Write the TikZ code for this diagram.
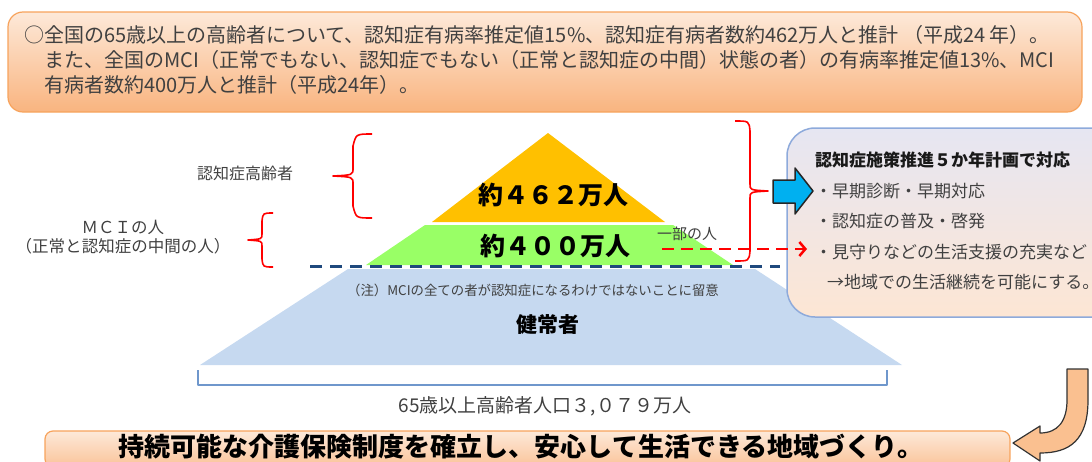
\documentclass[tikz,border=0pt]{standalone}
\usepackage{fontspec}
\setmainfont{Noto Sans CJK JP}
\usetikzlibrary{arrows.meta}

\definecolor{boxorange}{HTML}{F7A35C}
\definecolor{peachtop}{HTML}{FDE9D9}
\definecolor{peachbot}{HTML}{F9B47F}
\definecolor{tri}{HTML}{FFC000}
\definecolor{mcigreen}{HTML}{99FF66}
\definecolor{healthy}{HTML}{C6D9F0}
\definecolor{navy}{HTML}{1F497D}
\definecolor{planedge}{HTML}{8EAADB}
\definecolor{plantop}{HTML}{E6E6F2}
\definecolor{planbot}{HTML}{FDE6D4}
\definecolor{sky}{HTML}{00B0F0}
\definecolor{txtgray}{HTML}{404040}
\definecolor{bracketblue}{HTML}{6F97CC}
\definecolor{arroworange}{HTML}{FAC090}

\begin{document}
\begin{tikzpicture}[x=1pt,y=-1pt,line join=round,
  redbrace/.style={draw=red,line width=1.6pt},
  txt/.style={text=txtgray,inner sep=0pt},
  bignum/.style={inner sep=0pt,font=\fontsize{25}{25}\selectfont\bfseries}]

\useasboundingbox (0,0) rectangle (1092,461);
\clip (0,0) rectangle (1092,461);

% summary box on top
\node[draw=boxorange,line width=1.2pt,rounded corners=15pt,top color=peachtop,
  bottom color=peachbot,minimum width=1074pt,minimum height=100pt,inner sep=0pt]
  (summary) at (545,62) {};
\node[txt,anchor=west,align=left,font=\fontsize{20}{25}\selectfont]
  (summarytext) at (24,60)
  {○全国の65歳以上の高齢者について、認知症有病率推定値15\%、認知症有病者数約462万人と推計 （平成24 年）。\\
   　また、全国のMCI（正常でもない、認知症でもない（正常と認知症の中間）状態の者）の有病率推定値13\%、MCI\\
   　有病者数約400万人と推計（平成24年）。};

% pyramid
\fill[healthy] (348,269) -- (755,269) -- (902,365) -- (200,365) -- cycle;
\fill[mcigreen] (425,225) -- (673,225) -- (733,265) -- (366,265) -- cycle;
\fill[tri] (548,133) -- (665,222) -- (432,222) -- cycle;
\draw[navy,line width=3pt,dash pattern=on 12pt off 8pt] (310,266) -- (780,266);

\node[bignum] (n462) at (553,195) {約４６２万人};
\node[bignum] (n400) at (555,246) {約４００万人};
\node[txt,font=\fontsize{13.4}{13.4}\selectfont] (note) at (533,290)
  {（注）MCIの全ての者が認知症になるわけではないことに留意};
\node[inner sep=0pt,font=\fontsize{21}{21}\selectfont\bfseries] (healthy) at (548,325) {健常者};

% population bracket
\draw[bracketblue,line width=1.5pt] (198,370) -- (198,385) -- (887,385) -- (887,370);
\node[txt,font=\fontsize{19}{19}\selectfont] (total) at (545,406) {65歳以上高齢者人口３,０７９万人};

% left labels and braces
\node[txt,font=\fontsize{16}{16}\selectfont] (dementia) at (245,173) {認知症高齢者};
\node[txt,align=center,font=\fontsize{16.5}{19.5}\selectfont] (mci) at (123,237)
  {ＭＣＩの人\\（正常と認知症の中間の人）};
\draw[redbrace] (372,134) .. controls (356,134) .. (353,146) -- (353,168)
  .. controls (353,175) .. (333,176) .. controls (353,177) .. (353,184) -- (353,206)
  .. controls (356,218) .. (372,218);
\draw[redbrace] (273,213) .. controls (263,213) .. (262,221) -- (262,234)
  .. controls (262,239) .. (248,240) .. controls (262,241) .. (262,246) -- (262,259)
  .. controls (263,267) .. (273,267);

% right brace
\draw[redbrace] (735,121) .. controls (749,121) .. (750,131) -- (750,184)
  .. controls (750,190) .. (768,191) .. controls (750,192) .. (750,198) -- (750,251)
  .. controls (749,261) .. (735,261);
\node[txt,font=\fontsize{15}{15}\selectfont] (part) at (687,234) {一部の人};

% plan box
\node[draw=planedge,line width=1.5pt,rounded corners=28pt,top color=plantop,
  bottom color=planbot,minimum width=340pt,minimum height=189pt,inner sep=0pt]
  (plan) at (957,222.5) {};
\node[txt,anchor=north west,align=left,font=\fontsize{17}{30.5}\selectfont]
  (plantext) at (815,152)
  {\textcolor{black!90}{\bfseries 認知症施策推進５か年計画で対応}\\
   ・早期診断・早期対応\\
   ・認知症の普及・啓発\\
   ・見守りなどの生活支援の充実など\\
   \hspace*{12pt}→地域での生活継続を可能にする。};

% arrows into the plan box
\fill[sky,draw=black!85,line width=1.5pt] (773,180) -- (795,180) -- (795,168)
  -- (813,191) -- (795,214) -- (795,203) -- (773,203) -- cycle;
\coordinate (mcistart) at (662,249);
\coordinate (planin) at (807,249);
\draw[red,line width=2.5pt,dash pattern=on 12pt off 7pt,
  -{Straight Barb[length=6pt,width=14pt]}] (mcistart) -- (planin);

% goal box
\node[draw=boxorange,line width=1.2pt,rounded corners=8pt,top color=peachtop,
  bottom color=peachbot!80,minimum width=965pt,minimum height=36pt,inner sep=0pt]
  (goal) at (527.5,449) {};
\node[inner sep=0pt,font=\fontsize{26}{26}\selectfont\bfseries] (goaltext) at (521,447)
  {持続可能な介護保険制度を確立し、安心して生活できる地域づくり。};

% curved arrow down to goal
\draw[fill=arroworange,draw=black!80,line width=1.2pt] (1067,369) -- (1088,369)
  -- (1088,400) .. controls (1088,440) and (1070,453) .. (1040,453) -- (1040,461)
  -- (1013,443) -- (1040,426) -- (1040,433) .. controls (1058,433) and (1067,421)
  .. (1067,400) -- cycle;

\end{tikzpicture}
\end{document}
